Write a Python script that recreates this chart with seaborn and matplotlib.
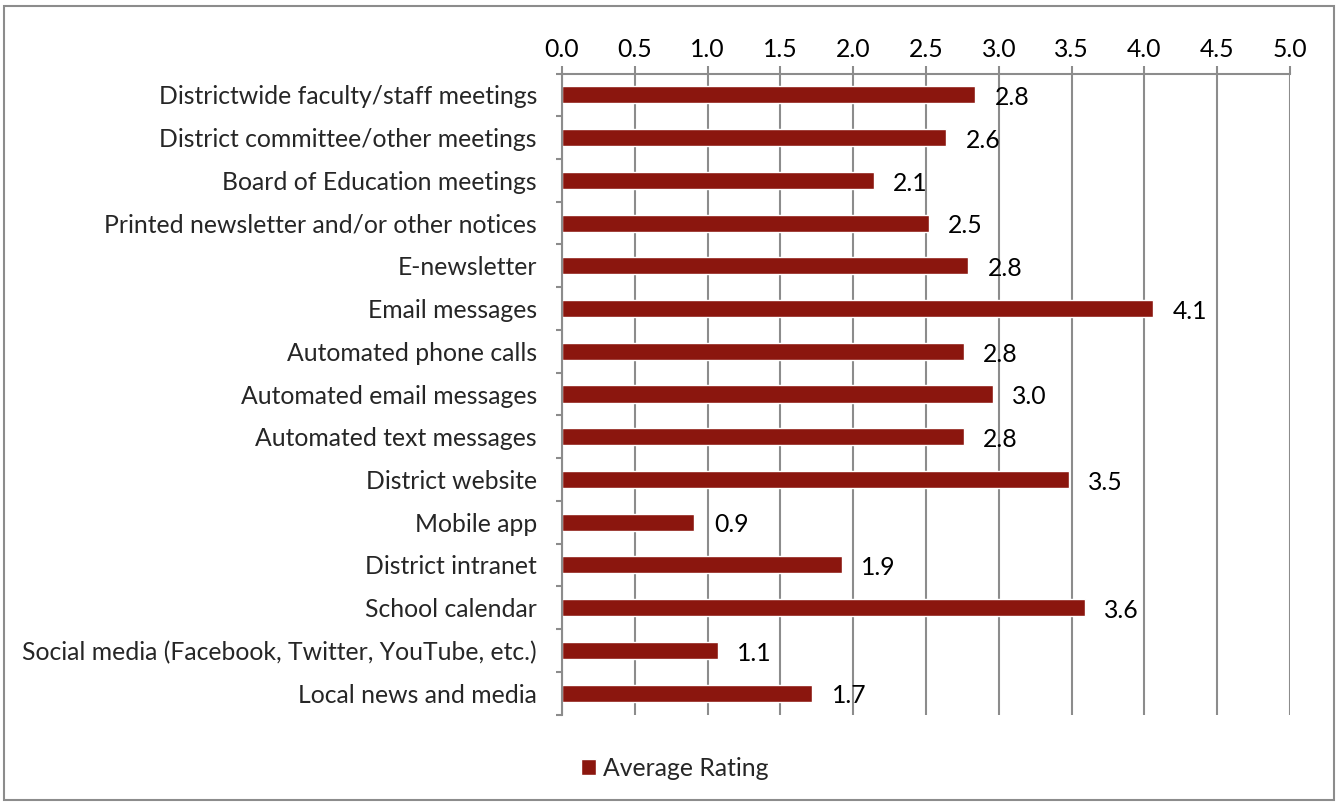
import matplotlib
matplotlib.use("Agg")
import matplotlib.pyplot as plt
from matplotlib.patches import Rectangle
from matplotlib.ticker import MultipleLocator, FixedLocator
import seaborn as sns
import pandas as pd

channels = [
    "Districtwide faculty/staff meetings",
    "District committee/other meetings",
    "Board of Education meetings",
    "Printed newsletter and/or other notices",
    "E-newsletter",
    "Email messages",
    "Automated phone calls",
    "Automated email messages",
    "Automated text messages",
    "District website",
    "Mobile app",
    "District intranet",
    "School calendar",
    "Social media (Facebook, Twitter, YouTube, etc.)",
    "Local news and media",
]
ratings = [2.84, 2.64, 2.14, 2.52, 2.79, 4.06, 2.76, 2.96, 2.76, 3.48, 0.91, 1.92, 3.59, 1.07, 1.72]
series_name = "Average Rating"

bar_color = "#8B160E"
grid_color = "#8C8C8C"
font = ["Lato", "DejaVu Sans"]
fs = 17.8

sns.set_theme(style="white")
plt.rcParams["font.family"] = font

df = pd.DataFrame({"channel": channels, "rating": ratings})

fig = plt.figure(figsize=(13.39, 8.06), dpi=100)
ax = fig.add_axes([0.4197, 0.1135, 0.9634 - 0.4197, 0.9088 - 0.1135])

sns.barplot(data=df, y="channel", x="rating", orient="h", color=bar_color,
            width=0.4, saturation=1, ax=ax, label=series_name)

ax.set_xlim(0, 5)
ax.set_ylim(len(channels) - 0.5, -0.5)
ax.xaxis.set_major_locator(MultipleLocator(0.5))
ax.xaxis.tick_top()
ax.xaxis.set_label_position("top")
ax.set_xticklabels([f"{v:.1f}" for v in ax.get_xticks()])
ax.set_xlabel("")
ax.set_ylabel("")

ax.grid(axis="x", color=grid_color, linewidth=1.5)
ax.set_axisbelow(True)

for side in ["right", "bottom"]:
    ax.spines[side].set_visible(False)
for side in ["left", "top"]:
    ax.spines[side].set_color(grid_color)
    ax.spines[side].set_linewidth(1.5)

ax.tick_params(axis="x", which="major", length=6, width=1.5, color=grid_color,
               labelsize=fs, pad=3, labelcolor="black")
ax.tick_params(axis="y", which="major", length=0, labelsize=fs, pad=18)
ax.yaxis.set_minor_locator(FixedLocator([i + 0.5 for i in range(-1, len(channels))]))
ax.tick_params(axis="y", which="minor", left=True, length=4, width=1.5, color=grid_color)

for i, v in enumerate(ratings):
    ax.annotate(f"{v:.1f}", xy=(v, i), xytext=(14, -2), textcoords="offset points",
                ha="left", va="center", fontsize=fs, color="black")

if ax.legend_:
    ax.legend_.remove()
handles, labels = ax.get_legend_handles_labels()
fig.legend(handles[:1], [series_name], loc="center", bbox_to_anchor=(0.504, 0.047),
           frameon=False, fontsize=fs, handlelength=0.62, handleheight=0.62,
           handletextpad=0.3)

fig.patches.append(Rectangle((4 / 1339, 6 / 806), 1 - 9 / 1339, 1 - 12 / 806,
                             transform=fig.transFigure, fill=False,
                             edgecolor=grid_color, linewidth=1.5))

fig.savefig("out.png", dpi=100)
